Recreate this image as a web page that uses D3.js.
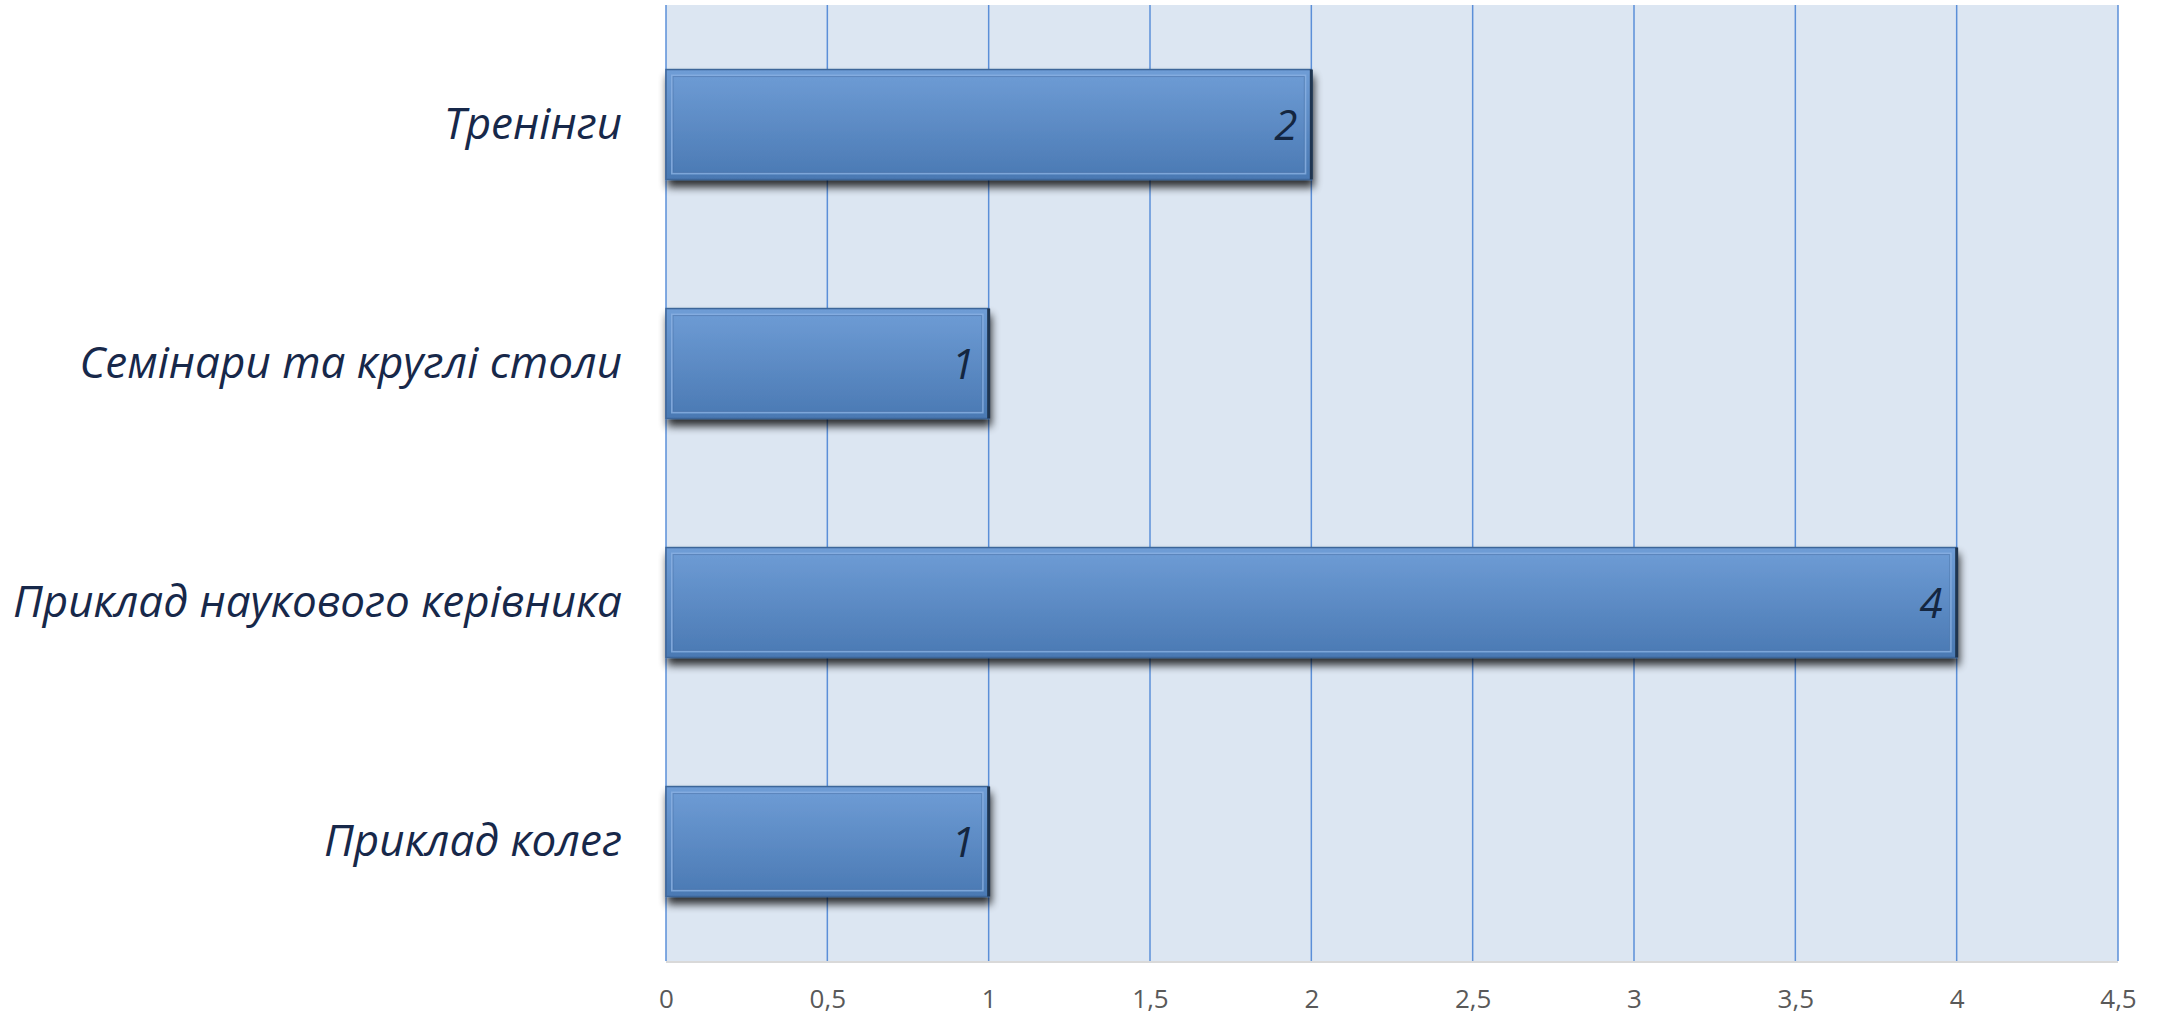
<!DOCTYPE html>
<html><head><meta charset="utf-8">
<script src="https://cdn.jsdelivr.net/npm/d3@7"></script>
<style>html,body{margin:0;padding:0;background:#fff;}svg{display:block;}</style>
</head><body>
<svg id="chart" width="2159" height="1019"></svg>
<script>
const categories = ["Тренінги", "Семінари та круглі столи", "Приклад наукового керівника", "Приклад колег"];
const values = [2, 1, 4, 1];
const tickValues = [0, 0.5, 1, 1.5, 2, 2.5, 3, 3.5, 4, 4.5];
const tickLabels = ["0", "0,5", "1", "1,5", "2", "2,5", "3", "3,5", "4", "4,5"];

const svg = d3.select("#chart");
const m = {left: 666, right: 2118, top: 5, bottom: 961};
const x = d3.scaleLinear().domain([0, 4.5]).range([m.left, m.right]);
const y = d3.scaleBand().domain(categories).range([m.top, m.bottom]).paddingInner(0.54).paddingOuter(0.27);

const defs = svg.append("defs");
const g1 = defs.append("linearGradient").attr("id", "barGrad").attr("x1", 0).attr("y1", 0).attr("x2", 0).attr("y2", 1);
g1.append("stop").attr("offset", "0%").attr("stop-color", "#6f9dd6");
g1.append("stop").attr("offset", "100%").attr("stop-color", "#4a79b3");
const f = defs.append("filter").attr("id", "shadow").attr("x", "-5%").attr("y", "-20%").attr("width", "115%").attr("height", "160%");
f.append("feGaussianBlur").attr("in", "SourceAlpha").attr("stdDeviation", 4).attr("result", "b");
f.append("feOffset").attr("in", "b").attr("dx", 2).attr("dy", 7).attr("result", "o");
f.append("feComponentTransfer").attr("in", "o").attr("result", "o2").append("feFuncA").attr("type", "linear").attr("slope", 0.8);
const fm = f.append("feMerge");
fm.append("feMergeNode").attr("in", "o2");
fm.append("feMergeNode").attr("in", "SourceGraphic");

// plot background
svg.append("rect").attr("x", m.left).attr("y", m.top).attr("width", m.right - m.left).attr("height", m.bottom - m.top).attr("fill", "#dce6f2");

// gridlines
svg.append("g").selectAll("line").data(tickValues).join("line")
  .attr("x1", d => x(d)).attr("x2", d => x(d)).attr("y1", m.top).attr("y2", m.bottom)
  .attr("stroke", "#5b8fd8").attr("stroke-width", 1.5);

// bottom axis line
svg.append("line").attr("x1", m.left).attr("x2", m.right).attr("y1", m.bottom + 1).attr("y2", m.bottom + 1)
  .attr("stroke", "#d9d9d9").attr("stroke-width", 2);

// x axis tick labels
const xAxis = d3.axisBottom(x).tickValues(tickValues).tickFormat((d, i) => tickLabels[i]).tickSize(0).tickPadding(29);
const ax = svg.append("g").attr("transform", `translate(0,${m.bottom})`).call(xAxis);
ax.select(".domain").remove();
ax.selectAll("text").attr("font-family", "'Open Sans', sans-serif").attr("font-size", 26).attr("fill", "#595959");

// bars
const bars = svg.append("g").selectAll("g").data(categories).join("g");
bars.append("rect")
  .attr("x", x(0)).attr("y", d => y(d)).attr("width", (d, i) => x(values[i]) - x(0)).attr("height", y.bandwidth())
  .attr("fill", "url(#barGrad)").attr("stroke", "#3d6699").attr("stroke-width", 1.5).attr("filter", "url(#shadow)");
// inner bevel
bars.append("rect")
  .attr("x", x(0) + 6).attr("y", d => y(d) + 6).attr("width", (d, i) => x(values[i]) - x(0) - 12).attr("height", y.bandwidth() - 12)
  .attr("fill", "none").attr("stroke", "#8ab0e2").attr("stroke-width", 2).attr("opacity", 0.8);
bars.append("rect")
  .attr("x", x(0) + 7).attr("y", d => y(d) + 7).attr("width", (d, i) => x(values[i]) - x(0) - 14).attr("height", y.bandwidth() - 14)
  .attr("fill", "none").attr("stroke", "#3f6aa0").attr("stroke-width", 1).attr("opacity", 0.5);
// right dark edge
bars.append("line")
  .attr("x1", (d, i) => x(values[i])).attr("x2", (d, i) => x(values[i]))
  .attr("y1", d => y(d)).attr("y2", d => y(d) + y.bandwidth())
  .attr("stroke", "#1f3550").attr("stroke-width", 3);

// value labels
bars.append("text")
  .attr("x", (d, i) => x(values[i]) - 14).attr("y", d => y(d) + y.bandwidth() / 2)
  .attr("dy", "0.36em").attr("text-anchor", "end")
  .attr("font-family", "'Open Sans', sans-serif").attr("font-style", "italic").attr("font-size", 42)
  .attr("fill", "#142640").text((d, i) => values[i]);

// category labels
const yAxis = d3.axisLeft(y).tickSize(0).tickPadding(44);
const ay = svg.append("g").attr("transform", `translate(${m.left},0)`).call(yAxis);
ay.select(".domain").remove();
ay.selectAll("text").attr("font-family", "'Open Sans', sans-serif").attr("font-style", "italic").attr("font-size", 44).attr("fill", "#17284a");
</script>
</body></html>
